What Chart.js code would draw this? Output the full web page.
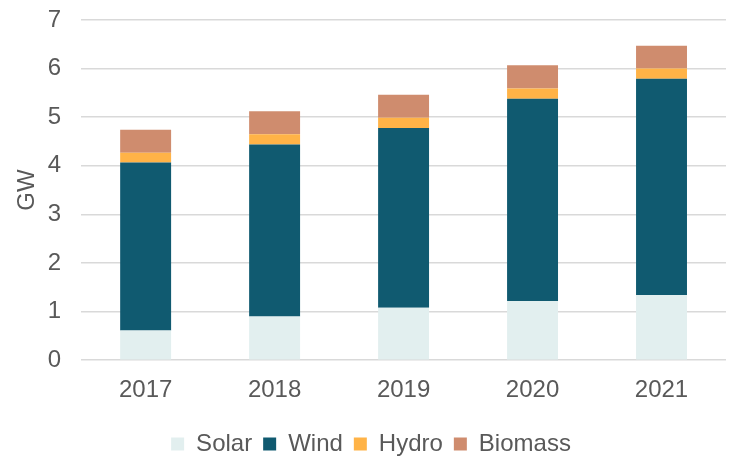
<!DOCTYPE html>
<html lang="en">
<head>
    <meta charset="UTF-8">
    <title>GW by source</title>
    <script src="https://cdn.jsdelivr.net/npm/chart.js"></script>
    <style>
        html, body { margin: 0; padding: 0; background: #fff; }
        #wrap { width: 729px; height: 456px; }
    </style>
</head>
<body>
    <div id="wrap"><canvas id="grafik"></canvas></div>
    <script>
        // data (GW)
        var years = ["2017", "2018", "2019", "2020", "2021"];
        var solar = [0.61, 0.90, 1.08, 1.22, 1.34];
        var wind = [3.46, 3.54, 3.70, 4.16, 4.45];
        var hydro = [0.20, 0.21, 0.21, 0.21, 0.21];
        var biomass = [0.47, 0.47, 0.47, 0.48, 0.47];

        var textColor = '#595959';
        var fontFam = '"Liberation Sans", Arial, sans-serif';

        Chart.defaults.font.family = fontFam;
        Chart.defaults.font.size = 24;
        Chart.defaults.color = textColor;

        function serie(label, data, color) {
            return {
                label: label,
                data: data,
                backgroundColor: color,
                borderWidth: 0,
                categoryPercentage: 1,
                barPercentage: 0.395
            };
        }

        var ctx = document.getElementById('grafik').getContext('2d');
        var grafik = new Chart(ctx, {
            type: 'bar',
            data: {
                labels: years,
                datasets: [
                    serie('Solar', solar, '#E2EFEF'),
                    serie('Wind', wind, '#105A70'),
                    serie('Hydro', hydro, '#FFB347'),
                    serie('Biomass', biomass, '#CF8C6E')
                ]
            },
            options: {
                responsive: true,
                maintainAspectRatio: false,
                animation: false,
                // legend sits a little right of centre in the original
                layout: { padding: { top: 20, right: 3, left: 16, bottom: -10 } },
                plugins: {
                    legend: {
                        position: 'bottom',
                        labels: {
                            boxWidth: 13,
                            boxHeight: 13,
                            padding: 11,
                            color: textColor
                        }
                    },
                    tooltip: { enabled: false }
                },
                scales: {
                    x: {
                        stacked: true,
                        grid: { display: false, drawTicks: false },
                        border: { display: false },
                        ticks: { padding: 16 }
                    },
                    y: {
                        stacked: true,
                        min: 0,
                        max: 7,
                        ticks: { stepSize: 1, padding: 20 },
                        grid: { color: '#D9D9D9', lineWidth: 1.5, drawTicks: false },
                        border: { display: false },
                        title: { display: true, text: 'GW', color: textColor, padding: { top: -3, bottom: -14 } },
                        afterFit: function (scale) {
                            // top of plot lines up with the "7" line
                            scale.paddingTop = 0;
                        }
                    }
                }
            }
        });
    </script>
</body>
</html>
